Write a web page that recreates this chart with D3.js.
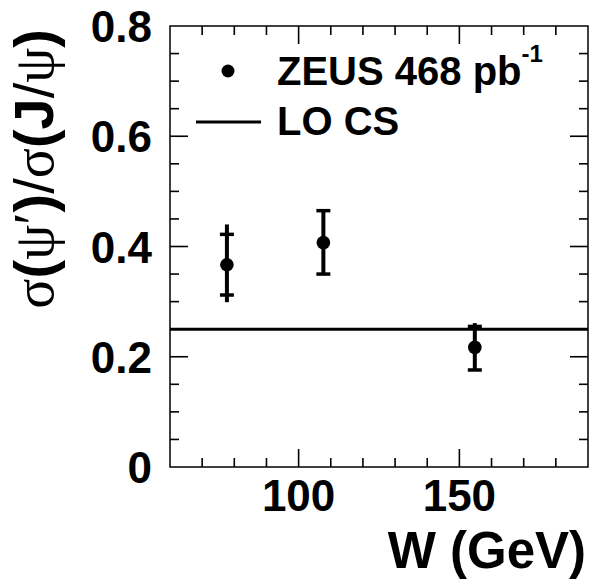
<!DOCTYPE html>
<html>
<head>
<meta charset="utf-8">
<script src="https://cdn.jsdelivr.net/npm/d3@7"></script>
<style>
  html, body { margin: 0; padding: 0; background: #fff; }
  svg { display: block; }
  .lbl { font-family: "Liberation Sans", Arial, Helvetica, sans-serif; font-weight: bold; fill: #000; }
</style>
</head>
<body>
<svg id="chart" width="590" height="579"></svg>
<script>
// ψ' / J/ψ cross-section ratio versus W
const wValues   = [77.7, 107.7, 154.8];
const ratio     = [0.367, 0.407, 0.217];
const statUp    = [0.055, 0.058, 0.038];
const statDown  = [0.055, 0.057, 0.041];
const totalUp   = [0.073, 0.058, 0.044];
const totalDown = [0.068, 0.057, 0.041];
const loCS      = 0.25;

const xMajorTicks = [100, 150];
const yMajorTicks = [0, 0.2, 0.4, 0.6, 0.8];
const yTickLabels = ["0", "0.2", "0.4", "0.6", "0.8"];

const svg = d3.select("#chart");
const frame = { left: 170, right: 588, top: 26, bottom: 467 };

const x = d3.scaleLinear().domain([60, 190]).range([frame.left, frame.right]);
const y = d3.scaleLinear().domain([0, 0.8]).range([frame.bottom, frame.top]);

const majorLen = 18, minorLen = 9;

// frame
svg.append("rect")
  .attr("x", frame.left).attr("y", frame.top)
  .attr("width", frame.right - frame.left).attr("height", frame.bottom - frame.top)
  .attr("fill", "none").attr("stroke", "#000").attr("stroke-width", 1.5);

const ticks = svg.append("g").attr("stroke", "#000").attr("stroke-width", 1.6);

// x ticks (bottom and top, pointing inward)
const xMinor = d3.range(70, 190, 10);
xMinor.forEach(v => {
  const len = xMajorTicks.includes(v) ? majorLen : minorLen;
  ticks.append("line").attr("x1", x(v)).attr("x2", x(v))
    .attr("y1", frame.bottom).attr("y2", frame.bottom - len);
  ticks.append("line").attr("x1", x(v)).attr("x2", x(v))
    .attr("y1", frame.top).attr("y2", frame.top + len);
});

// y ticks (left and right, pointing inward)
const yMinor = d3.range(1, 16).map(i => i * 0.05);
yMinor.forEach(v => {
  const isMajor = yMajorTicks.some(t => Math.abs(t - v) < 1e-9);
  const len = isMajor ? majorLen : minorLen;
  ticks.append("line").attr("x1", frame.left).attr("x2", frame.left + len)
    .attr("y1", y(v)).attr("y2", y(v));
  ticks.append("line").attr("x1", frame.right).attr("x2", frame.right - len)
    .attr("y1", y(v)).attr("y2", y(v));
});

// tick labels
svg.append("g").selectAll("text").data(yMajorTicks).join("text")
  .attr("class", "lbl")
  .attr("x", 152).attr("y", d => y(d) + 16)
  .attr("text-anchor", "end").attr("font-size", 44)
  .text((d, i) => yTickLabels[i]);

svg.append("g").selectAll("text").data(xMajorTicks).join("text")
  .attr("class", "lbl")
  .attr("x", d => x(d)).attr("y", 511)
  .attr("text-anchor", "middle").attr("font-size", 44)
  .text(d => d);

// axis titles
svg.append("text").attr("class", "lbl")
  .attr("x", 586).attr("y", 568)
  .attr("text-anchor", "end").attr("font-size", 51)
  .text("W (GeV)");

const yTitle = svg.append("text")
  .attr("transform", "translate(53,29) rotate(-90)")
  .attr("text-anchor", "end")
  .attr("font-size", 56)
  .attr("fill", "#000");
const serif = '"Liberation Serif", "DejaVu Serif", serif';
const sans = '"Liberation Sans", Arial, sans-serif';
[
  ["σ", serif, "normal"], ["(", sans, "bold"], ["ψ", serif, "normal"], ["′", serif, "normal"],
  [")", sans, "bold"], ["/", sans, "normal"], ["σ", serif, "normal"], ["(", sans, "bold"],
  ["J", sans, "bold"], ["/", sans, "normal"], ["ψ", serif, "normal"], [")", sans, "bold"]
].forEach(([t, f, w]) => {
  yTitle.append("tspan").attr("font-family", f).attr("font-weight", w).text(t);
});

// LO colour-singlet prediction
svg.append("line")
  .attr("x1", frame.left).attr("x2", frame.right)
  .attr("y1", y(loCS)).attr("y2", y(loCS))
  .attr("stroke", "#000").attr("stroke-width", 3);

// data points with stat (capped) and total errors
const pts = svg.append("g");
wValues.forEach((w, i) => {
  const cx = x(w);
  pts.append("line").attr("x1", cx).attr("x2", cx)
    .attr("y1", y(ratio[i] + totalUp[i])).attr("y2", y(ratio[i] - totalDown[i]))
    .attr("stroke", "#000").attr("stroke-width", 4);
  [ratio[i] + statUp[i], ratio[i] - statDown[i]].forEach(v => {
    pts.append("line").attr("x1", cx - 7).attr("x2", cx + 7)
      .attr("y1", y(v)).attr("y2", y(v))
      .attr("stroke", "#000").attr("stroke-width", 3.5);
  });
  pts.append("circle").attr("cx", cx).attr("cy", y(ratio[i])).attr("r", 6.8).attr("fill", "#000");
});

// legend
const lg = svg.append("g");
lg.append("circle").attr("cx", 228).attr("cy", 71).attr("r", 6.5).attr("fill", "#000");
const zeus = lg.append("text").attr("class", "lbl").attr("x", 277).attr("y", 85).attr("font-size", 40);
zeus.append("tspan").text("ZEUS 468 pb");
zeus.append("tspan").attr("font-size", 24).attr("dy", -23).text("-1");
lg.append("line").attr("x1", 196).attr("x2", 261).attr("y1", 122).attr("y2", 122)
  .attr("stroke", "#000").attr("stroke-width", 3);
lg.append("text").attr("class", "lbl").attr("x", 277).attr("y", 135).attr("font-size", 40).text("LO CS");
</script>
</body>
</html>
